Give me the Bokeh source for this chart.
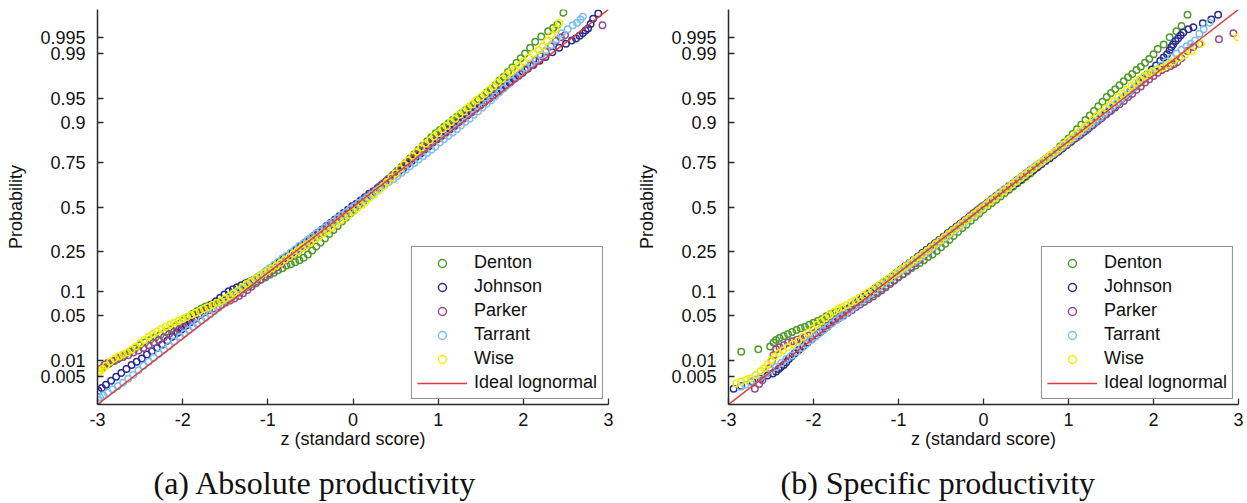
from statistics import NormalDist

from bokeh.embed import file_html
from bokeh.layouts import row
from bokeh.models import FixedTicker, Range1d, Title
from bokeh.plotting import figure
from bokeh.resources import INLINE

# ---------------------------------------------------------------------------
# Normal probability plots of well productivity per county.
# x: standard score of the (log) productivity, y: normal quantile of the
# empirical plotting position (axis labelled with the probability itself).
# ---------------------------------------------------------------------------

COUNTIES = ["Denton", "Johnson", "Parker", "Tarrant", "Wise"]
COUNTY_COLORS = ["#4f9a2a", "#2b2b8e", "#964a8c", "#7cbff0", "#f2ee00"]
IDEAL_LABEL = "Ideal lognormal"
IDEAL_COLOR = "#e53b3b"

PROB_TICKS = [0.005, 0.01, 0.05, 0.1, 0.25, 0.5, 0.75, 0.9, 0.95, 0.99, 0.995]
PROB_LABELS = ["0.005", "0.01", "0.05", "0.1", "0.25", "0.5", "0.75", "0.9",
               "0.95", "0.99", "0.995"]
Z_TICKS = [-3, -2, -1, 0, 1, 2, 3]
Z_LABELS = ["-3", "-2", "-1", "0", "1", "2", "3"]
IDEAL_Z = [-3, 3]

# (standard score, normal quantile) pairs -- absolute productivity
ABS_DENTON = [
    (-2.92, -2.42), (-2.86, -2.38), (-2.80, -2.34), (-2.74, -2.29), (-2.68, -2.25),
    (-2.62, -2.20), (-2.56, -2.15), (-2.50, -2.10), (-2.44, -2.06), (-2.38, -2.02),
    (-2.32, -1.98), (-2.26, -1.94), (-2.20, -1.90), (-2.14, -1.86), (-2.08, -1.81),
    (-2.03, -1.77), (-1.98, -1.72), (-1.93, -1.67), (-1.88, -1.62), (-1.83, -1.58),
    (-1.78, -1.54), (-1.73, -1.51), (-1.68, -1.49), (-1.63, -1.47), (-1.58, -1.45),
    (-1.53, -1.43), (-1.48, -1.41), (-1.43, -1.38), (-1.38, -1.34), (-1.33, -1.30),
    (-1.28, -1.25), (-1.23, -1.21), (-1.18, -1.17), (-1.13, -1.13), (-1.08, -1.10),
    (-1.03, -1.07), (-0.98, -1.03), (-0.93, -1.00), (-0.88, -0.96), (-0.83, -0.93),
    (-0.78, -0.89), (-0.73, -0.87), (-0.68, -0.84), (-0.63, -0.81), (-0.58, -0.77),
    (-0.53, -0.72), (-0.48, -0.66), (-0.43, -0.60), (-0.38, -0.54), (-0.33, -0.48),
    (-0.28, -0.41), (-0.23, -0.35), (-0.18, -0.29), (-0.13, -0.22), (-0.08, -0.16),
    (-0.03, -0.10), (0.02, -0.04), (0.07, 0.03), (0.12, 0.08), (0.17, 0.14),
    (0.22, 0.19), (0.27, 0.25), (0.32, 0.31), (0.37, 0.37), (0.42, 0.43),
    (0.47, 0.49), (0.52, 0.55), (0.57, 0.61), (0.62, 0.67), (0.67, 0.74),
    (0.72, 0.80), (0.77, 0.87), (0.82, 0.93), (0.87, 1.00), (0.92, 1.06),
    (0.97, 1.12), (1.02, 1.17), (1.07, 1.22), (1.12, 1.27), (1.17, 1.32),
    (1.22, 1.37), (1.27, 1.42), (1.32, 1.47), (1.37, 1.52), (1.42, 1.57),
    (1.47, 1.63), (1.52, 1.68), (1.57, 1.74), (1.62, 1.79), (1.67, 1.85),
    (1.72, 1.92), (1.77, 1.98), (1.82, 2.05), (1.87, 2.12), (1.92, 2.19),
    (1.97, 2.26), (2.02, 2.33), (2.08, 2.42), (2.14, 2.51), (2.21, 2.59),
    (2.29, 2.67), (2.35, 2.72), (2.40, 2.77), (2.47, 2.95),
]
ABS_JOHNSON = [
    (-2.99, -2.79), (-2.95, -2.75), (-2.90, -2.70), (-2.84, -2.64), (-2.78, -2.58),
    (-2.72, -2.52), (-2.66, -2.46), (-2.60, -2.40), (-2.54, -2.35), (-2.48, -2.30),
    (-2.42, -2.24), (-2.36, -2.19), (-2.30, -2.14), (-2.24, -2.09), (-2.18, -2.03),
    (-2.12, -1.97), (-2.06, -1.91), (-2.01, -1.86), (-1.96, -1.80), (-1.91, -1.75),
    (-1.86, -1.70), (-1.81, -1.64), (-1.76, -1.59), (-1.71, -1.54), (-1.66, -1.48),
    (-1.61, -1.43), (-1.56, -1.38), (-1.51, -1.33), (-1.46, -1.28), (-1.41, -1.25),
    (-1.36, -1.22), (-1.31, -1.19), (-1.26, -1.16), (-1.21, -1.13), (-1.16, -1.10),
    (-1.11, -1.06), (-1.06, -1.02), (-1.01, -0.97), (-0.96, -0.93), (-0.91, -0.88),
    (-0.86, -0.83), (-0.81, -0.78), (-0.76, -0.74), (-0.71, -0.69), (-0.66, -0.64),
    (-0.61, -0.59), (-0.56, -0.54), (-0.51, -0.49), (-0.46, -0.44), (-0.41, -0.39),
    (-0.36, -0.34), (-0.31, -0.29), (-0.26, -0.24), (-0.21, -0.19), (-0.16, -0.14),
    (-0.11, -0.09), (-0.06, -0.04), (-0.01, 0.01), (0.04, 0.05), (0.09, 0.10),
    (0.14, 0.15), (0.19, 0.20), (0.24, 0.24), (0.29, 0.29), (0.34, 0.34),
    (0.39, 0.39), (0.44, 0.44), (0.49, 0.49), (0.54, 0.54), (0.59, 0.59),
    (0.64, 0.65), (0.69, 0.70), (0.74, 0.76), (0.79, 0.81), (0.84, 0.87),
    (0.89, 0.92), (0.94, 0.98), (0.99, 1.03), (1.04, 1.08), (1.09, 1.13),
    (1.14, 1.18), (1.19, 1.23), (1.24, 1.29), (1.29, 1.34), (1.34, 1.39),
    (1.39, 1.44), (1.44, 1.49), (1.49, 1.54), (1.54, 1.59), (1.59, 1.64),
    (1.64, 1.69), (1.69, 1.74), (1.74, 1.79), (1.79, 1.84), (1.84, 1.89),
    (1.89, 1.94), (1.94, 1.99), (1.99, 2.04), (2.05, 2.10), (2.12, 2.16),
    (2.19, 2.22), (2.26, 2.28), (2.34, 2.35), (2.42, 2.42), (2.50, 2.48),
    (2.57, 2.53), (2.62, 2.56), (2.66, 2.60), (2.70, 2.64), (2.73, 2.68),
    (2.76, 2.71), (2.79, 2.78), (2.82, 2.86), (2.88, 2.94),
]
ABS_PARKER = [
    (-2.95, -2.45), (-2.92, -2.40), (-2.88, -2.37), (-2.82, -2.34), (-2.76, -2.31),
    (-2.70, -2.28), (-2.64, -2.25), (-2.58, -2.21), (-2.52, -2.18), (-2.46, -2.14),
    (-2.40, -2.10), (-2.34, -2.06), (-2.28, -2.02), (-2.22, -1.98), (-2.16, -1.93),
    (-2.10, -1.89), (-2.04, -1.86), (-1.99, -1.82), (-1.94, -1.77), (-1.89, -1.73),
    (-1.84, -1.69), (-1.79, -1.64), (-1.74, -1.60), (-1.69, -1.57), (-1.64, -1.54),
    (-1.59, -1.51), (-1.54, -1.48), (-1.49, -1.45), (-1.44, -1.42), (-1.39, -1.39),
    (-1.34, -1.35), (-1.29, -1.31), (-1.24, -1.26), (-1.19, -1.21), (-1.14, -1.16),
    (-1.09, -1.11), (-1.04, -1.06), (-0.99, -1.01), (-0.94, -0.96), (-0.89, -0.91),
    (-0.84, -0.86), (-0.79, -0.81), (-0.74, -0.76), (-0.69, -0.71), (-0.64, -0.66),
    (-0.59, -0.61), (-0.54, -0.56), (-0.49, -0.50), (-0.44, -0.45), (-0.39, -0.40),
    (-0.34, -0.35), (-0.29, -0.30), (-0.24, -0.25), (-0.19, -0.20), (-0.14, -0.15),
    (-0.09, -0.10), (-0.04, -0.05), (0.01, 0.00), (0.06, 0.05), (0.11, 0.10),
    (0.16, 0.15), (0.21, 0.20), (0.26, 0.25), (0.31, 0.31), (0.36, 0.36),
    (0.41, 0.42), (0.46, 0.47), (0.51, 0.52), (0.56, 0.58), (0.61, 0.63),
    (0.66, 0.69), (0.71, 0.74), (0.76, 0.80), (0.81, 0.85), (0.86, 0.91),
    (0.91, 0.96), (0.96, 1.01), (1.01, 1.06), (1.06, 1.11), (1.11, 1.16),
    (1.16, 1.21), (1.21, 1.26), (1.26, 1.31), (1.31, 1.36), (1.36, 1.41),
    (1.41, 1.46), (1.46, 1.51), (1.51, 1.56), (1.56, 1.61), (1.61, 1.66),
    (1.66, 1.71), (1.71, 1.76), (1.76, 1.81), (1.81, 1.86), (1.86, 1.91),
    (1.91, 1.96), (1.96, 2.02), (2.02, 2.08), (2.08, 2.15), (2.14, 2.22),
    (2.20, 2.29), (2.26, 2.36), (2.32, 2.44), (2.38, 2.52), (2.44, 2.58),
    (2.49, 2.61), (2.93, 2.76),
]
ABS_TARRANT = [
    (-2.99, -2.94), (-2.97, -2.89), (-2.93, -2.86), (-2.88, -2.82), (-2.82, -2.77),
    (-2.76, -2.72), (-2.70, -2.67), (-2.64, -2.61), (-2.58, -2.55), (-2.52, -2.48),
    (-2.46, -2.41), (-2.40, -2.35), (-2.34, -2.29), (-2.28, -2.23), (-2.22, -2.17),
    (-2.16, -2.11), (-2.10, -2.04), (-2.03, -1.97), (-1.98, -1.92), (-1.93, -1.87),
    (-1.88, -1.82), (-1.83, -1.77), (-1.78, -1.72), (-1.73, -1.68), (-1.68, -1.63),
    (-1.63, -1.58), (-1.58, -1.53), (-1.53, -1.48), (-1.48, -1.43), (-1.43, -1.38),
    (-1.38, -1.33), (-1.33, -1.28), (-1.28, -1.23), (-1.23, -1.18), (-1.18, -1.13),
    (-1.13, -1.08), (-1.08, -1.03), (-1.03, -0.98), (-0.98, -0.93), (-0.93, -0.88),
    (-0.88, -0.83), (-0.83, -0.78), (-0.78, -0.74), (-0.73, -0.69), (-0.68, -0.64),
    (-0.63, -0.59), (-0.58, -0.55), (-0.53, -0.50), (-0.48, -0.45), (-0.43, -0.40),
    (-0.38, -0.36), (-0.33, -0.31), (-0.28, -0.26), (-0.23, -0.22), (-0.18, -0.17),
    (-0.13, -0.12), (-0.08, -0.08), (-0.03, -0.03), (0.02, 0.01), (0.07, 0.06),
    (0.12, 0.10), (0.17, 0.15), (0.22, 0.19), (0.27, 0.24), (0.32, 0.28),
    (0.37, 0.33), (0.42, 0.38), (0.47, 0.42), (0.52, 0.47), (0.57, 0.52),
    (0.62, 0.57), (0.67, 0.62), (0.72, 0.67), (0.77, 0.72), (0.82, 0.77),
    (0.87, 0.82), (0.92, 0.87), (0.97, 0.92), (1.02, 0.98), (1.07, 1.03),
    (1.12, 1.08), (1.17, 1.13), (1.22, 1.18), (1.27, 1.24), (1.32, 1.29),
    (1.37, 1.34), (1.42, 1.40), (1.47, 1.45), (1.52, 1.51), (1.57, 1.57),
    (1.62, 1.62), (1.67, 1.68), (1.72, 1.74), (1.77, 1.80), (1.82, 1.86),
    (1.87, 1.92), (1.92, 1.98), (1.97, 2.04), (2.03, 2.11), (2.09, 2.18),
    (2.15, 2.24), (2.21, 2.31), (2.27, 2.38), (2.33, 2.46), (2.39, 2.55),
    (2.45, 2.64), (2.52, 2.70), (2.58, 2.76), (2.63, 2.80), (2.67, 2.85),
    (2.70, 2.89),
]
ABS_WISE = [
    (-2.99, -2.52), (-2.97, -2.49), (-2.94, -2.46), (-2.90, -2.41), (-2.85, -2.35),
    (-2.80, -2.30), (-2.75, -2.27), (-2.70, -2.24), (-2.65, -2.21), (-2.60, -2.17),
    (-2.55, -2.12), (-2.50, -2.07), (-2.45, -2.02), (-2.40, -1.97), (-2.35, -1.93),
    (-2.30, -1.89), (-2.25, -1.85), (-2.20, -1.82), (-2.15, -1.79), (-2.10, -1.76),
    (-2.05, -1.73), (-2.00, -1.70), (-1.95, -1.67), (-1.90, -1.64), (-1.85, -1.61),
    (-1.80, -1.58), (-1.75, -1.55), (-1.70, -1.52), (-1.65, -1.49), (-1.60, -1.46),
    (-1.55, -1.43), (-1.50, -1.39), (-1.45, -1.35), (-1.40, -1.31), (-1.35, -1.27),
    (-1.30, -1.22), (-1.25, -1.17), (-1.20, -1.13), (-1.15, -1.09), (-1.10, -1.05),
    (-1.05, -1.01), (-1.00, -0.97), (-0.95, -0.93), (-0.90, -0.89), (-0.85, -0.85),
    (-0.80, -0.80), (-0.75, -0.76), (-0.70, -0.71), (-0.65, -0.67), (-0.60, -0.62),
    (-0.55, -0.58), (-0.50, -0.54), (-0.45, -0.49), (-0.40, -0.45), (-0.35, -0.40),
    (-0.30, -0.36), (-0.25, -0.31), (-0.20, -0.26), (-0.15, -0.21), (-0.10, -0.16),
    (-0.05, -0.12), (0.00, -0.07), (0.05, -0.02), (0.10, 0.03), (0.15, 0.08),
    (0.20, 0.14), (0.25, 0.19), (0.30, 0.25), (0.35, 0.31), (0.40, 0.38),
    (0.45, 0.45), (0.50, 0.51), (0.55, 0.58), (0.60, 0.65), (0.65, 0.71),
    (0.70, 0.78), (0.75, 0.84), (0.80, 0.90), (0.85, 0.96), (0.90, 1.01),
    (0.95, 1.07), (1.00, 1.12), (1.05, 1.18), (1.10, 1.23), (1.15, 1.29),
    (1.20, 1.34), (1.25, 1.40), (1.30, 1.45), (1.35, 1.51), (1.40, 1.56),
    (1.45, 1.62), (1.50, 1.67), (1.55, 1.72), (1.60, 1.78), (1.65, 1.83),
    (1.70, 1.89), (1.75, 1.94), (1.80, 2.00), (1.85, 2.05), (1.90, 2.10),
    (1.95, 2.15), (2.00, 2.21), (2.06, 2.27), (2.12, 2.33), (2.18, 2.38),
    (2.23, 2.44), (2.28, 2.52), (2.33, 2.61), (2.38, 2.70), (2.42, 2.80),
]

# (standard score, normal quantile) pairs -- specific productivity
SPEC_DENTON = [
    (-2.85, -2.20), (-2.65, -2.16), (-2.51, -2.12), (-2.47, -2.06), (-2.44, -2.02),
    (-2.40, -1.99), (-2.35, -1.96), (-2.30, -1.93), (-2.25, -1.90), (-2.20, -1.87),
    (-2.15, -1.84), (-2.10, -1.82), (-2.05, -1.79), (-2.00, -1.76), (-1.95, -1.73),
    (-1.90, -1.70), (-1.85, -1.66), (-1.80, -1.63), (-1.75, -1.61), (-1.70, -1.59),
    (-1.65, -1.57), (-1.60, -1.55), (-1.55, -1.52), (-1.50, -1.48), (-1.45, -1.44),
    (-1.40, -1.40), (-1.35, -1.37), (-1.30, -1.33), (-1.25, -1.29), (-1.20, -1.24),
    (-1.15, -1.20), (-1.10, -1.15), (-1.05, -1.11), (-1.00, -1.06), (-0.95, -1.02),
    (-0.90, -0.98), (-0.85, -0.93), (-0.80, -0.89), (-0.75, -0.85), (-0.70, -0.81),
    (-0.65, -0.76), (-0.60, -0.72), (-0.55, -0.67), (-0.50, -0.61), (-0.45, -0.56),
    (-0.40, -0.50), (-0.35, -0.44), (-0.30, -0.38), (-0.25, -0.32), (-0.20, -0.27),
    (-0.15, -0.21), (-0.10, -0.15), (-0.05, -0.10), (0.00, -0.04), (0.05, 0.01),
    (0.10, 0.06), (0.15, 0.11), (0.20, 0.16), (0.25, 0.21), (0.30, 0.26),
    (0.35, 0.31), (0.40, 0.36), (0.45, 0.41), (0.50, 0.46), (0.55, 0.51),
    (0.60, 0.57), (0.65, 0.62), (0.70, 0.68), (0.75, 0.73), (0.80, 0.79),
    (0.85, 0.85), (0.90, 0.92), (0.95, 0.98), (1.00, 1.04), (1.05, 1.11),
    (1.10, 1.18), (1.15, 1.25), (1.20, 1.32), (1.25, 1.39), (1.30, 1.46),
    (1.35, 1.53), (1.40, 1.60), (1.45, 1.67), (1.50, 1.73), (1.55, 1.79),
    (1.60, 1.85), (1.65, 1.91), (1.70, 1.97), (1.75, 2.02), (1.80, 2.08),
    (1.85, 2.13), (1.90, 2.19), (1.95, 2.25), (2.00, 2.32), (2.05, 2.40),
    (2.12, 2.47), (2.19, 2.58), (2.27, 2.67), (2.33, 2.75), (2.40, 2.92),
]
SPEC_JOHNSON = [
    (-2.94, -2.76), (-2.85, -2.72), (-2.72, -2.65), (-2.62, -2.60), (-2.54, -2.56),
    (-2.48, -2.53), (-2.44, -2.50), (-2.41, -2.46), (-2.38, -2.43), (-2.35, -2.40),
    (-2.32, -2.36), (-2.29, -2.31), (-2.26, -2.27), (-2.22, -2.22), (-2.17, -2.17),
    (-2.12, -2.11), (-2.07, -2.06), (-2.02, -2.01), (-1.97, -1.96), (-1.92, -1.90),
    (-1.87, -1.85), (-1.82, -1.79), (-1.77, -1.74), (-1.72, -1.68), (-1.67, -1.63),
    (-1.62, -1.57), (-1.57, -1.52), (-1.52, -1.47), (-1.47, -1.42), (-1.42, -1.37),
    (-1.37, -1.32), (-1.32, -1.28), (-1.27, -1.23), (-1.22, -1.19), (-1.17, -1.14),
    (-1.12, -1.10), (-1.07, -1.05), (-1.02, -1.00), (-0.97, -0.95), (-0.92, -0.90),
    (-0.87, -0.85), (-0.82, -0.80), (-0.77, -0.75), (-0.72, -0.70), (-0.67, -0.65),
    (-0.62, -0.60), (-0.57, -0.55), (-0.52, -0.50), (-0.47, -0.45), (-0.42, -0.40),
    (-0.37, -0.35), (-0.32, -0.30), (-0.27, -0.25), (-0.22, -0.20), (-0.17, -0.15),
    (-0.12, -0.10), (-0.07, -0.05), (-0.02, 0.00), (0.03, 0.04), (0.08, 0.09),
    (0.13, 0.14), (0.18, 0.18), (0.23, 0.23), (0.28, 0.27), (0.33, 0.32),
    (0.38, 0.36), (0.43, 0.41), (0.48, 0.46), (0.53, 0.51), (0.58, 0.55),
    (0.63, 0.60), (0.68, 0.65), (0.73, 0.70), (0.78, 0.74), (0.83, 0.79),
    (0.88, 0.84), (0.93, 0.89), (0.98, 0.94), (1.03, 0.99), (1.08, 1.04),
    (1.13, 1.09), (1.18, 1.14), (1.23, 1.19), (1.28, 1.24), (1.33, 1.30),
    (1.38, 1.35), (1.43, 1.41), (1.48, 1.46), (1.53, 1.52), (1.58, 1.58),
    (1.63, 1.64), (1.68, 1.70), (1.73, 1.76), (1.78, 1.82), (1.83, 1.89),
    (1.88, 1.95), (1.93, 2.02), (1.98, 2.09), (2.03, 2.15), (2.08, 2.22),
    (2.12, 2.27), (2.16, 2.32), (2.19, 2.38), (2.21, 2.43), (2.23, 2.47),
    (2.26, 2.52), (2.29, 2.56), (2.32, 2.61), (2.35, 2.65), (2.41, 2.70),
    (2.47, 2.73), (2.58, 2.79), (2.68, 2.85), (2.76, 2.92),
]
SPEC_PARKER = [
    (-2.69, -2.76), (-2.64, -2.69), (-2.60, -2.63), (-2.56, -2.53), (-2.52, -2.45),
    (-2.49, -2.33), (-2.47, -2.25), (-2.44, -2.16), (-2.40, -2.13), (-2.35, -2.10),
    (-2.30, -2.06), (-2.25, -2.04), (-2.20, -2.02), (-2.15, -2.00), (-2.10, -1.98),
    (-2.05, -1.95), (-2.00, -1.92), (-1.95, -1.88), (-1.90, -1.84), (-1.85, -1.80),
    (-1.80, -1.76), (-1.75, -1.72), (-1.70, -1.69), (-1.65, -1.65), (-1.60, -1.61),
    (-1.55, -1.57), (-1.50, -1.52), (-1.45, -1.48), (-1.40, -1.44), (-1.35, -1.40),
    (-1.30, -1.36), (-1.25, -1.31), (-1.20, -1.27), (-1.15, -1.22), (-1.10, -1.17),
    (-1.05, -1.12), (-1.00, -1.07), (-0.95, -1.02), (-0.90, -0.96), (-0.85, -0.91),
    (-0.80, -0.85), (-0.75, -0.80), (-0.70, -0.74), (-0.65, -0.69), (-0.60, -0.63),
    (-0.55, -0.57), (-0.50, -0.51), (-0.45, -0.46), (-0.40, -0.40), (-0.35, -0.35),
    (-0.30, -0.29), (-0.25, -0.24), (-0.20, -0.19), (-0.15, -0.13), (-0.10, -0.08),
    (-0.05, -0.03), (0.00, 0.02), (0.05, 0.07), (0.10, 0.12), (0.15, 0.17),
    (0.20, 0.22), (0.25, 0.27), (0.30, 0.32), (0.35, 0.36), (0.40, 0.41),
    (0.45, 0.46), (0.50, 0.51), (0.55, 0.56), (0.60, 0.60), (0.65, 0.65),
    (0.70, 0.70), (0.75, 0.74), (0.80, 0.79), (0.85, 0.83), (0.90, 0.88),
    (0.95, 0.92), (1.00, 0.97), (1.05, 1.02), (1.10, 1.06), (1.15, 1.11),
    (1.20, 1.16), (1.25, 1.21), (1.30, 1.26), (1.35, 1.31), (1.40, 1.36),
    (1.45, 1.41), (1.50, 1.46), (1.55, 1.51), (1.60, 1.56), (1.65, 1.61),
    (1.70, 1.67), (1.75, 1.72), (1.80, 1.78), (1.85, 1.83), (1.90, 1.89),
    (1.95, 1.94), (2.00, 1.99), (2.05, 2.04), (2.10, 2.08), (2.15, 2.11),
    (2.20, 2.14), (2.24, 2.17), (2.28, 2.20), (2.33, 2.26), (2.40, 2.37),
    (2.47, 2.43), (2.54, 2.48), (2.77, 2.55), (2.94, 2.64),
]
SPEC_TARRANT = [
    (-2.86, -2.73), (-2.80, -2.70), (-2.74, -2.66), (-2.68, -2.62), (-2.62, -2.58),
    (-2.56, -2.53), (-2.50, -2.48), (-2.44, -2.43), (-2.38, -2.37), (-2.32, -2.31),
    (-2.26, -2.26), (-2.20, -2.20), (-2.14, -2.14), (-2.08, -2.08), (-2.03, -2.02),
    (-1.98, -1.97), (-1.93, -1.92), (-1.88, -1.87), (-1.83, -1.82), (-1.78, -1.77),
    (-1.73, -1.72), (-1.68, -1.67), (-1.63, -1.62), (-1.58, -1.57), (-1.53, -1.52),
    (-1.48, -1.47), (-1.43, -1.42), (-1.38, -1.37), (-1.33, -1.32), (-1.28, -1.27),
    (-1.23, -1.22), (-1.18, -1.17), (-1.13, -1.12), (-1.08, -1.08), (-1.03, -1.03),
    (-0.98, -0.98), (-0.93, -0.94), (-0.88, -0.89), (-0.83, -0.84), (-0.78, -0.80),
    (-0.73, -0.75), (-0.68, -0.70), (-0.63, -0.65), (-0.58, -0.60), (-0.53, -0.55),
    (-0.48, -0.50), (-0.43, -0.45), (-0.38, -0.40), (-0.33, -0.35), (-0.28, -0.30),
    (-0.23, -0.25), (-0.18, -0.19), (-0.13, -0.14), (-0.08, -0.09), (-0.03, -0.03),
    (0.02, 0.02), (0.07, 0.08), (0.12, 0.13), (0.17, 0.18), (0.22, 0.23),
    (0.27, 0.28), (0.32, 0.33), (0.37, 0.38), (0.42, 0.43), (0.47, 0.48),
    (0.52, 0.53), (0.57, 0.58), (0.62, 0.63), (0.67, 0.67), (0.72, 0.72),
    (0.77, 0.77), (0.82, 0.81), (0.87, 0.86), (0.92, 0.91), (0.97, 0.96),
    (1.02, 1.01), (1.07, 1.06), (1.12, 1.11), (1.17, 1.16), (1.22, 1.21),
    (1.27, 1.26), (1.32, 1.31), (1.37, 1.36), (1.42, 1.42), (1.47, 1.47),
    (1.52, 1.53), (1.57, 1.58), (1.62, 1.64), (1.67, 1.70), (1.72, 1.75),
    (1.77, 1.81), (1.82, 1.87), (1.87, 1.92), (1.92, 1.98), (1.97, 2.03),
    (2.03, 2.09), (2.09, 2.15), (2.15, 2.21), (2.21, 2.27), (2.27, 2.33),
    (2.33, 2.39), (2.39, 2.44), (2.44, 2.48), (2.49, 2.53), (2.54, 2.63),
    (2.59, 2.70), (2.66, 2.80),
]
SPEC_WISE = [
    (-2.91, -2.68), (-2.85, -2.65), (-2.79, -2.62), (-2.74, -2.60), (-2.68, -2.55),
    (-2.62, -2.49), (-2.58, -2.45), (-2.54, -2.39), (-2.50, -2.33), (-2.46, -2.27),
    (-2.41, -2.22), (-2.36, -2.18), (-2.30, -2.13), (-2.24, -2.08), (-2.18, -2.03),
    (-2.12, -1.97), (-2.06, -1.91), (-2.01, -1.85), (-1.96, -1.79), (-1.91, -1.74),
    (-1.86, -1.69), (-1.81, -1.64), (-1.76, -1.59), (-1.71, -1.55), (-1.66, -1.52),
    (-1.61, -1.49), (-1.56, -1.45), (-1.51, -1.42), (-1.46, -1.38), (-1.41, -1.34),
    (-1.36, -1.30), (-1.31, -1.26), (-1.26, -1.21), (-1.21, -1.17), (-1.16, -1.12),
    (-1.11, -1.08), (-1.06, -1.03), (-1.01, -0.99), (-0.96, -0.94), (-0.91, -0.90),
    (-0.86, -0.85), (-0.81, -0.80), (-0.76, -0.76), (-0.71, -0.71), (-0.66, -0.66),
    (-0.61, -0.61), (-0.56, -0.56), (-0.51, -0.51), (-0.46, -0.46), (-0.41, -0.41),
    (-0.36, -0.36), (-0.31, -0.31), (-0.26, -0.26), (-0.21, -0.21), (-0.16, -0.16),
    (-0.11, -0.11), (-0.06, -0.06), (-0.01, -0.01), (0.04, 0.04), (0.09, 0.09),
    (0.14, 0.14), (0.19, 0.19), (0.24, 0.24), (0.29, 0.29), (0.34, 0.34),
    (0.39, 0.39), (0.44, 0.44), (0.49, 0.49), (0.54, 0.54), (0.59, 0.59),
    (0.64, 0.64), (0.69, 0.69), (0.74, 0.74), (0.79, 0.79), (0.84, 0.84),
    (0.89, 0.89), (0.94, 0.95), (0.99, 1.00), (1.04, 1.05), (1.09, 1.11),
    (1.14, 1.16), (1.19, 1.22), (1.24, 1.27), (1.29, 1.33), (1.34, 1.39),
    (1.39, 1.44), (1.44, 1.50), (1.49, 1.55), (1.54, 1.61), (1.59, 1.67),
    (1.64, 1.72), (1.69, 1.78), (1.74, 1.84), (1.79, 1.89), (1.84, 1.94),
    (1.89, 1.99), (1.94, 2.03), (1.99, 2.06), (2.05, 2.09), (2.11, 2.12),
    (2.17, 2.16), (2.23, 2.21), (2.30, 2.26), (2.37, 2.31), (2.45, 2.37),
    (2.56, 2.48), (2.99, 2.58),
]

ABSOLUTE = [ABS_DENTON, ABS_JOHNSON, ABS_PARKER, ABS_TARRANT, ABS_WISE]
SPECIFIC = [SPEC_DENTON, SPEC_JOHNSON, SPEC_PARKER, SPEC_TARRANT, SPEC_WISE]

SANS = "Liberation Sans"
SERIF = "Liberation Serif"
FONT_PX = "18px"


def probability_plot(series, caption, width, border_left, border_right, caption_offset):
    p = figure(
        width=width, height=503,
        x_range=Range1d(-3, 3), y_range=Range1d(-3, 3),
        output_backend="svg", toolbar_location=None,
        min_border_left=border_left, min_border_right=border_right,
        min_border_top=9, min_border_bottom=99,
        background_fill_color="white", border_fill_color="white",
    )
    p.outline_line_color = None
    p.grid.visible = False

    for name, color, pts in zip(COUNTIES, COUNTY_COLORS, series):
        xs = [pt[0] for pt in pts]
        ys = [pt[1] for pt in pts]
        p.scatter(xs, ys, marker="circle", size=6.5, fill_color=None,
                  line_color=color, line_width=1.5, legend_label=name)

    p.line(IDEAL_Z, IDEAL_Z, line_color=IDEAL_COLOR, line_width=1.5,
           legend_label=IDEAL_LABEL)

    # x axis: standard score
    xa = p.xaxis[0]
    xa.ticker = FixedTicker(ticks=Z_TICKS)
    xa.major_label_overrides = {t: lab for t, lab in zip(Z_TICKS, Z_LABELS)}
    xa.axis_label = "z (standard score)"
    # y axis: probability on a normal-quantile scale
    ya = p.yaxis[0]
    nd = NormalDist()
    tick_pos = [nd.inv_cdf(pr) for pr in PROB_TICKS]
    ya.ticker = FixedTicker(ticks=tick_pos)
    ya.major_label_overrides = {t: lab for t, lab in zip(tick_pos, PROB_LABELS)}
    ya.axis_label = "Probability"

    for ax in (xa, ya):
        ax.axis_line_color = "#2a2a2a"
        ax.axis_line_width = 1.5
        ax.major_tick_line_color = "#2a2a2a"
        ax.major_tick_line_width = 1.3
        ax.major_tick_in = 6
        ax.major_tick_out = 0
        ax.minor_tick_line_color = None
        ax.major_label_text_font = SANS
        ax.major_label_text_font_size = FONT_PX
        ax.major_label_text_color = "#111111"
        ax.axis_label_text_font = SANS
        ax.axis_label_text_font_size = FONT_PX
        ax.axis_label_text_font_style = "normal"
        ax.axis_label_text_color = "#111111"
    xa.major_label_standoff = 8
    xa.axis_label_standoff = 0
    ya.major_label_standoff = 12
    ya.axis_label_standoff = 11

    lg = p.legend[0]
    lg.location = "bottom_right"
    lg.margin = 5
    lg.padding = 5
    lg.spacing = 3
    lg.glyph_width = 50
    lg.glyph_height = 20
    lg.label_height = 20
    lg.label_standoff = 7
    lg.label_text_font = SANS
    lg.label_text_font_size = FONT_PX
    lg.label_text_color = "#111111"
    lg.border_line_color = "#222222"
    lg.border_line_width = 1.3
    lg.background_fill_alpha = 1.0

    # blank band between the axis label and the sub-figure caption
    p.add_layout(Title(text=" ", text_font_size="8px", standoff=0), "below")
    p.add_layout(Title(text=caption, align="left", offset=caption_offset,
                       vertical_align="bottom", standoff=0,
                       text_font=SERIF, text_font_size="32px",
                       text_font_style="normal", text_color="#111111"), "below")
    return p


left = probability_plot(ABSOLUTE, "(a) Absolute productivity",
                        width=620, border_left=97, border_right=12, caption_offset=56)
right = probability_plot(SPECIFIC, "(b) Specific productivity",
                         width=627, border_left=108, border_right=9, caption_offset=52)

layout = row(left, right)
open("out.html", "w").write(file_html(layout, INLINE))
